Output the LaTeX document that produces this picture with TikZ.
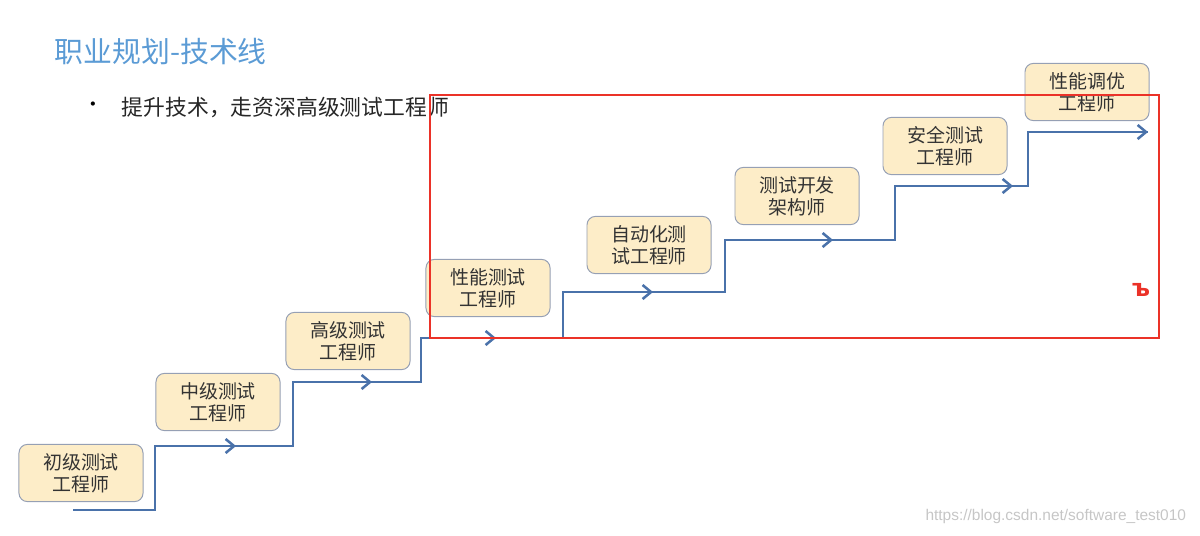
\documentclass[tikz,border=0pt]{standalone}
\usepackage{fontspec}
\newfontfamily\cjk{Noto Sans CJK SC}
\newfontfamily\dejavu{DejaVu Sans}
\newfontfamily\lib{Liberation Sans}
\usetikzlibrary{arrows.meta}
\definecolor{stepblue}{RGB}{74,114,170}
\definecolor{boxfill}{RGB}{253,237,200}
\definecolor{boxline}{RGB}{150,160,180}
\definecolor{redbox}{RGB}{235,50,40}
\begin{document}
\begin{tikzpicture}[x=0.025cm,y=-0.025cm,
  box/.style={draw=boxline, fill=boxfill, rounded corners=6pt, minimum width=3.1cm, minimum height=1.43cm, align=center, font=\cjk\fontsize{13.5}{15.5}\selectfont, text=black!80, line width=0.7pt, inner sep=1pt},
  stair/.style={draw=stepblue, line width=1.8pt},
  tip/.style={stair, -{Straight Barb[length=6pt,width=10pt]}}]
\useasboundingbox (0,0) rectangle (1200,535);
\node[anchor=west, text={rgb,255:red,91;green,155;blue,213}, font=\cjk\fontsize{20.5}{24}\selectfont] (title) at (50,52) {职业规划-技术线};
\node[font=\cjk\fontsize{14}{15}\selectfont] (bul) at (93,107) {•};
\node[anchor=west, font=\cjk\fontsize{15.5}{18}\selectfont, text=black!85] (sub) at (117,107) {提升技术，走资深高级测试工程师};
\node[box] (b1) at (81,473) {初级测试\\工程师};
\node[box] (b2) at (218,402) {中级测试\\工程师};
\node[box] (b3) at (348,341) {高级测试\\工程师};
\node[box] (b4) at (488,288) {性能测试\\工程师};
\node[box] (b5) at (649,245) {自动化测\\试工程师};
\node[box] (b6) at (797,196) {测试开发\\架构师};
\node[box] (b7) at (945,146) {安全测试\\工程师};
\node[box] (b8) at (1087,92) {性能调优\\工程师};
\coordinate (s) at (73,510);
\coordinate (e) at (1148,132);
\draw[stair] (s) -- (155,510) -- (155,446) -- (293,446) -- (293,382) -- (421,382) -- (421,338) -- (563,338) -- (563,292) -- (725,292) -- (725,240) -- (895,240) -- (895,186) -- (1028,186) -- (1028,132) -- (e);
\foreach \x/\y in {236/446, 372/382, 496/338, 653/292, 833/240, 1013/186, 1148/132}
  \draw[tip] (\x-20,\y) -- (\x,\y);
\draw[redbox, line width=2pt] (430,95) rectangle (1159,338);
\node[text=redbox, font=\dejavu\bfseries\fontsize{17}{17}\selectfont] (mk) at (1141,290) {ъ};
\node[anchor=east, text=gray!45, font=\lib\fontsize{11}{13}\selectfont] (wm) at (1191,516) {https://blog.csdn.net/software\_test010};
\end{tikzpicture}
\end{document}
